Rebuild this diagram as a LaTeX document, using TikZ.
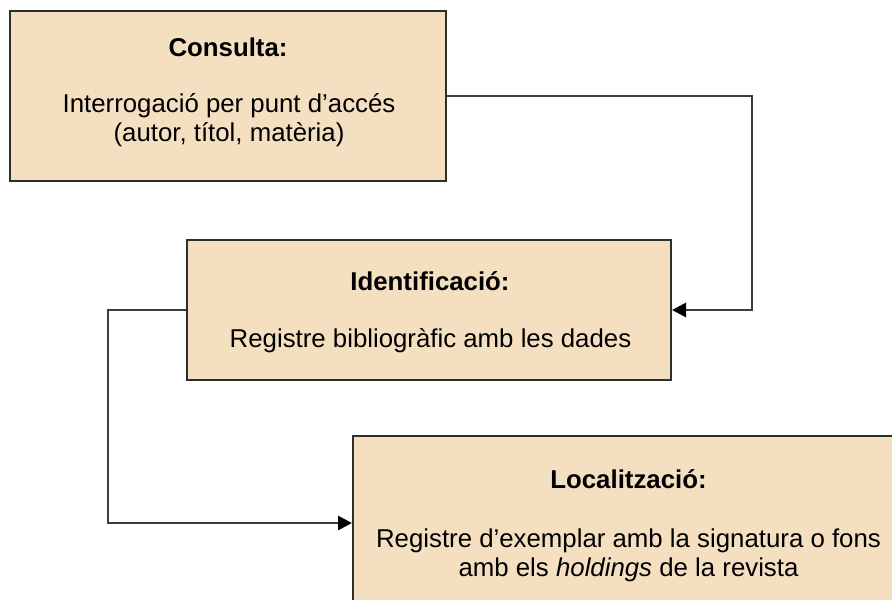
\documentclass[tikz,border=0pt]{standalone}
\usepackage{fontspec}
\setmainfont{Liberation Sans}
\usetikzlibrary{arrows.meta}
\definecolor{boxfill}{HTML}{F4E0C0}
\definecolor{boxline}{HTML}{2E2E2E}
\definecolor{conn}{HTML}{3C3C3C}
\begin{document}
\begin{tikzpicture}[x=1pt,y=-1pt,
  box/.style={draw=boxline, fill=boxfill, line width=2pt, rectangle, inner sep=0pt},
  txt/.style={anchor=base, inner sep=0pt, font=\fontsize{25.8}{29}\selectfont},
  ttl/.style={txt, font=\fontsize{25.8}{29}\selectfont\bfseries},
  link/.style={draw=conn, line width=2.8pt, -{Triangle[length=14pt,width=14pt,color=black]}}]
\useasboundingbox (0,0) rectangle (892,600);
\clip (0,0) rectangle (892,600);
% boxes
\node[box, minimum width=436pt, minimum height=170pt] (b1) at (228,96) {};
\node[box, minimum width=484pt, minimum height=140pt] (b2) at (429,310) {};
\node[box, minimum width=551pt, minimum height=174pt] (b3) at (628.5,523) {};
% texts
\node[ttl] (t1) at (228,56) {Consulta:};
\node[txt] (t1a) at (229,112) {Interrogació per punt d’accés};
\node[txt] (t1b) at (229,141) {(autor, títol, matèria)};
\node[ttl] (t2) at (430,290) {Identificació:};
\node[txt] (t2a) at (430.5,347) {Registre bibliogràfic amb les dades};
\node[ttl] (t3) at (628.5,488) {Localització:};
\node[txt] (t3a) at (628.5,547) {Registre d’exemplar amb la signatura o fons};
\node[txt] (t3b) at (628.5,576) {amb els \textit{holdings} de la revista};
% connectors
\coordinate (c1) at (752,310);
\coordinate (c2) at (108,310);
\coordinate (c3) at (108,523);
\draw[link] (b1.east) -| (c1) -- (b2.east);
\draw[link] (b2.west) -- (c2) -- (c3) -- (b3.west);
\end{tikzpicture}
\end{document}
